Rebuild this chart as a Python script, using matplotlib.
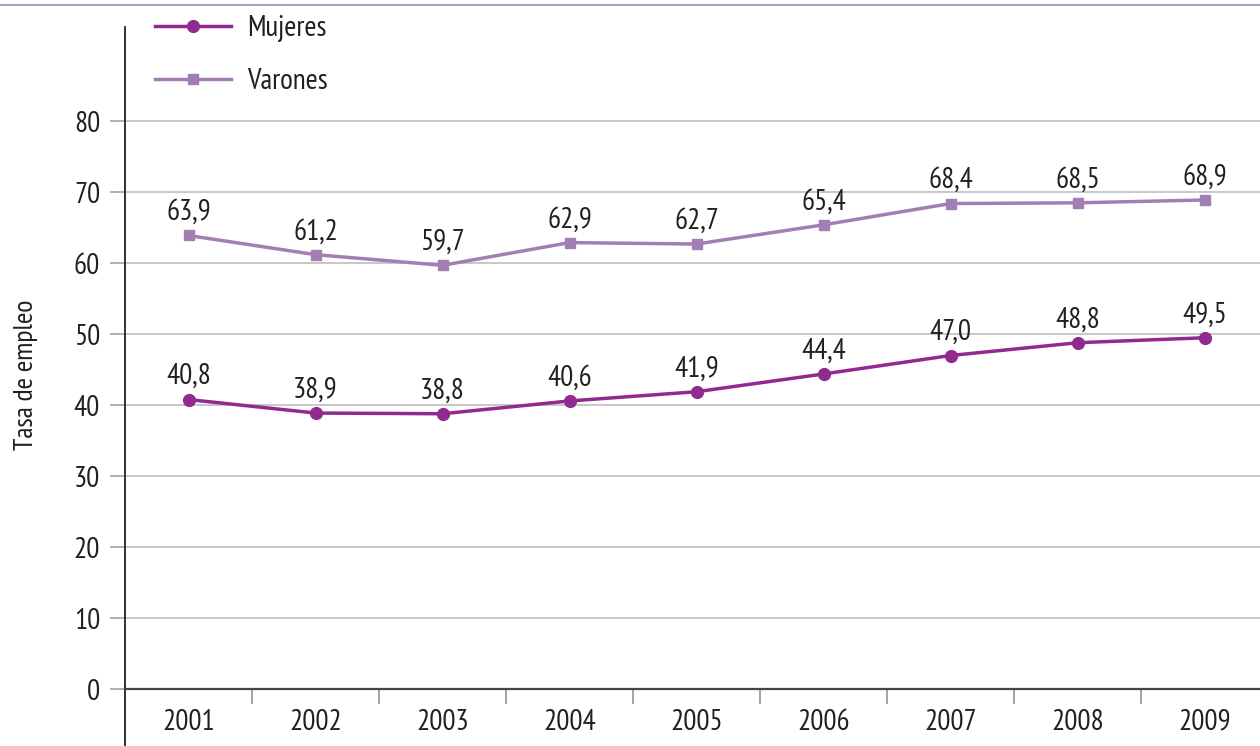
import numpy as np
import matplotlib.pyplot as plt
from matplotlib.lines import Line2D

# datos
anios = ["2001", "2002", "2003", "2004", "2005", "2006", "2007", "2008", "2009"]
mujeres = [40.8, 38.9, 38.8, 40.6, 41.9, 44.4, 47.0, 48.8, 49.5]
varones = [63.9, 61.2, 59.7, 62.9, 62.7, 65.4, 68.4, 68.5, 68.9]

col_muj = "#912a8e"
col_var = "#a17fb2"
col_txt = "#231f20"

plt.rcParams['font.family'] = ['PT Sans Narrow', 'DejaVu Sans']

fig = plt.figure(figsize=(12.6, 7.46), dpi=100)
ax = fig.add_axes([125 / 1260, 56.7 / 746, 1143 / 1260, 662.6 / 746])

x = np.arange(len(anios))
ax.plot(x, mujeres, color=col_muj, lw=2.5, marker="o", ms=8.5, label="Mujeres")
ax.plot(x, varones, color=col_var, lw=2.5, marker="s", ms=7.5, label="Varones")

# etiquetas de valores
for xi, v in zip(x, mujeres):
    ax.annotate(f"{v:.1f}".replace(".", ","), (xi, v), xytext=(0, 11),
                textcoords="offset points", ha="center", va="baseline",
                fontsize=21, color=col_txt)
for xi, v in zip(x, varones):
    ax.annotate(f"{v:.1f}".replace(".", ","), (xi, v), xytext=(0, 11),
                textcoords="offset points", ha="center", va="baseline",
                fontsize=21, color=col_txt)

ax.set_xlim(-0.5, 8.5)
ax.set_ylim(0, 93.3)
ax.set_yticks(range(0, 81, 10))
ax.set_xticks(x)
ax.set_xticklabels(anios)
ax.set_xticks(x[:-1] + 0.5, minor=True)

ax.grid(axis="y", color="#b9b9b9", lw=1.1)
ax.set_axisbelow(True)
for s in ["top", "right"]:
    ax.spines[s].set_visible(False)
ax.spines["left"].set_color("#231f20")
ax.spines["left"].set_linewidth(1.3)
ax.spines["bottom"].set_color("#444444")
ax.spines["bottom"].set_linewidth(1.6)
# prolongar el eje vertical hacia abajo
ax.axvline(-0.5, ymin=-56.7 / 662.6, ymax=0, color="#231f20", lw=1.3, clip_on=False)

ax.tick_params(axis="y", length=11, width=1.1, color="#9a9a9a", pad=7,
               labelsize=21, labelcolor=col_txt)
ax.tick_params(axis="x", which="major", length=0, pad=14, labelsize=21,
               labelcolor=col_txt)
ax.tick_params(axis="x", which="minor", length=11, width=1.1, color="#8a8a8a")

ax.set_ylabel("Tasa de empleo", fontsize=20, color=col_txt)
ax.yaxis.set_label_coords(-0.076, 0.475)

ax.legend(loc="upper left", bbox_to_anchor=(155 / 1260, 1 - 15 / 746),
          bbox_transform=fig.transFigure, frameon=False, fontsize=21,
          handlelength=2.6, handletextpad=0.55, labelspacing=0.9,
          borderpad=0, borderaxespad=0, labelcolor=col_txt)

# línea superior
fig.add_artist(Line2D([0, 1], [1 - 5 / 746, 1 - 5 / 746], color="#a585b5", lw=1.2,
                      transform=fig.transFigure))

fig.savefig("out.png", dpi=100)
